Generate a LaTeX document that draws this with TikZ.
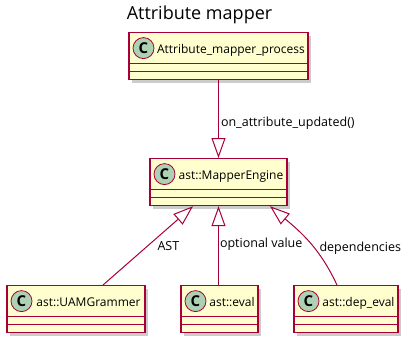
\documentclass[tikz,border=0pt]{standalone}
\usepackage{fontspec}
\setmainfont{Open Sans}
\usetikzlibrary{arrows.meta,shadows}

\definecolor{umlred}{HTML}{A80036}
\definecolor{umlfill}{HTML}{FEFECE}
\definecolor{spotfill}{HTML}{ADD1B2}

\tikzset{
  spot/.style={circle, draw=umlred, fill=spotfill, line width=0.8pt, anchor=center,
    minimum size=21pt, inner sep=0pt, text height=10pt, text depth=0pt,
    font=\fontsize{15}{15}\selectfont\bfseries},
  umlclass/.style={rectangle, draw=umlred, fill=umlfill, line width=1.2pt,
    anchor=north, inner sep=0pt, minimum height=47pt,
    text height=21pt, text depth=26pt, font=\fontsize{12}{14}\selectfont,
    drop shadow={shadow xshift=3pt, shadow yshift=-3pt, fill=black!40, opacity=.5},
    path picture={
      \draw[umlred, line width=1pt]
        ([yshift=-31pt]path picture bounding box.north west) -- ([yshift=-31pt]path picture bounding box.north east)
        ([yshift=-39pt]path picture bounding box.north west) -- ([yshift=-39pt]path picture bounding box.north east);
      \node[spot] at ([xshift=14.5pt,yshift=-15.5pt]path picture bounding box.north west) {C};
    }},
  extends/.style={draw=umlred, line width=1pt, -{Triangle[open, length=20pt, width=14pt]}},
  lbl/.style={font=\fontsize{12.5}{14}\selectfont, inner sep=2pt}
}

\begin{document}
\begin{tikzpicture}[x=1pt, y=1pt]
  \path[use as bounding box] (0,0) rectangle (411,-346);

  \node[font=\fontsize{18}{20}\selectfont, anchor=base] (title) at (199.5,-19.5) {Attribute mapper};

  \node[umlclass, minimum width=179pt] (proc)   at (218.5,-32)  {\hspace*{25pt}Attribute\_mapper\_process};
  \node[umlclass, minimum width=137pt] (engine) at (218.5,-158) {\hspace*{25pt}ast::MapperEngine};
  \node[umlclass, minimum width=138pt] (gram)   at (76,-285)    {\hspace*{25pt}ast::UAMGrammer};
  \node[umlclass, minimum width=77pt]  (eval)   at (219.5,-285) {\hspace*{25pt}ast::eval};
  \node[umlclass, minimum width=104pt] (dep)    at (346,-285)   {\hspace*{25pt}ast::dep\_eval};

  \draw[extends] (proc) -- node[lbl, right, pos=.55] {on\_attribute\_updated()} (engine);
  \draw[extends] ([xshift=27pt]gram.north) -- node[lbl, anchor=west, pos=.5, xshift=7pt] {AST}
    ([xshift=-25.5pt]engine.south);
  \draw[extends] (engine.south |- eval.north) -- node[lbl, right, pos=.52, inner sep=1pt] {optional value}
    (engine.south);
  \draw[extends] ([xshift=-9pt]dep.north) to[out=115, in=-40]
    node[lbl, right, pos=.415, xshift=3pt] {dependencies} ([xshift=51.5pt]engine.south);
\end{tikzpicture}
\end{document}
